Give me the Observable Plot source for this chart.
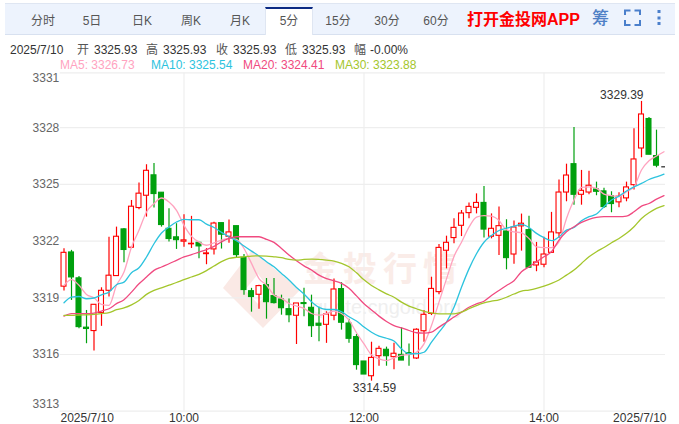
<!DOCTYPE html>
<html><head><meta charset="utf-8">
<script src="https://cdn.jsdelivr.net/npm/d3@7"></script>
<script src="https://cdn.jsdelivr.net/npm/@observablehq/plot@0.6"></script>
<style>
html,body{margin:0;padding:0;background:#fff;width:679px;height:424px;overflow:hidden;font-family:"Liberation Sans","Noto Sans CJK SC",sans-serif;font-size:12px;}
#page{position:relative;width:679px;height:424px;}
.abs{position:absolute;white-space:nowrap;line-height:14px;}
#bar{position:absolute;left:5px;top:3px;width:670px;height:30px;background:#edf3fd;border-top:1px solid #dfe6f2;border-bottom:1px solid #d8e1f0;}
#active{position:absolute;left:265px;top:7px;width:48px;height:28px;background:#fff;border-top:2px solid #0b2a83;border-left:1px solid #dfe6f2;border-right:1px solid #dfe6f2;box-sizing:border-box;}
.tab{transform:translateX(-50%);color:#555;top:14px;}
.lab{color:#555;top:43px}.num{color:#333;top:43px}
.ma{top:58px}
#chart{position:absolute;left:0;top:0;z-index:2;}
#chart svg{background:transparent!important;display:block;}
.wm{position:absolute;z-index:1;white-space:nowrap;}
</style></head><body><div id="page">
<div id="bar"></div><div id="active"></div>
<div id="head"></div>
<svg class="wm" width="679" height="424" style="left:0;top:0"><path d="M223 288L252 250L300 290L263 328Z" fill="#fae9e5"/><path d="M245 290L258 274L270 290L258 304Z" fill="#fff"/></svg>
<div class="wm" style="left:303px;top:245px;font:bold 34px 'Noto Sans CJK SC';letter-spacing:6px;color:#faecе8;color:#faece8;line-height:44px;">金投行情</div>
<div class="wm" style="left:312px;top:294px;font:20px 'Liberation Sans';color:#efefef;line-height:26px;">quote.cngold.org</div>
<div id="chart"></div>
</div>
<script>
const tabs=["分时","5日","日K","周K","月K","5分","15分","30分","60分"];
const tabX=[43,92,142,191,240,289,338,387,436];
const infoDate="2025/7/10";
const infoLabels=["开","高","收","低","幅"];
const infoValues=["3325.93","3325.93","3325.93","3325.93","-0.00%"];
const maNames=["MA5","MA10","MA20","MA30"];
const maLatest=["3326.73","3325.54","3324.41","3323.88"];
const maColors=["#ffa3bf","#2cc3de","#f04a80","#a4c62c"];
const yTicks=[3331,3328,3325,3322,3319,3316,3313];
const gridValues=[3328,3325,3322,3319,3316];
const timeLabels=["2025/7/10","10:00","12:00","14:00","2025/7/10"];
const timeIndex=[0,16,40,64,80];

const opens=[3319.59,3321.40,3320.03,3317.42,3317.24,3318.19,3319.37,3320.15,3322.62,3321.65,3323.75,3324.40,3325.48,3324.56,3322.65,3322.20,3321.97,3321.83,3321.91,3321.31,
3321.56,3322.95,3322.23,3322.79,3321.12,3319.35,3319.16,3319.67,3319.09,3318.91,3318.40,3318.05,3318.72,3318.47,3317.63,3317.57,3318.05,3319.46,3317.64,3316.92,
3315.63,3314.85,3315.91,3316.25,3315.86,3315.98,3316.07,3315.79,3317.23,3318.15,3319.30,3321.49,3322.16,3322.81,3323.48,3323.76,3324.02,3322.23,3322.28,3322.51,
3321.29,3322.78,3322.58,3320.71,3320.75,3321.38,3322.41,3324.57,3326.07,3324.45,3324.57,3324.73,3324.63,3324.38,3324.05,3324.26,3324.96,3326.90,3328.46,3326.50];
const closes=[3321.38,3320.08,3317.45,3317.35,3318.63,3319.37,3320.17,3322.23,3321.53,3323.82,3324.51,3325.72,3324.49,3322.85,3322.11,3322.05,3322.04,3321.86,3321.72,3321.35,
3322.93,3322.34,3322.46,3321.26,3319.41,3319.04,3319.62,3318.77,3318.72,3318.45,3318.08,3318.70,3318.67,3317.50,3317.52,3318.12,3319.44,3317.68,3316.83,3315.44,
3314.94,3315.82,3316.30,3315.91,3316.04,3315.68,3316.00,3317.31,3318.10,3319.47,3321.64,3321.91,3322.70,3323.46,3323.81,3324.02,3322.61,3322.65,3322.79,3321.10,
3322.72,3322.92,3320.59,3320.87,3321.29,3322.46,3324.57,3325.47,3324.45,3324.66,3324.93,3324.61,3323.80,3323.96,3324.35,3324.84,3326.32,3328.70,3326.57,3325.99];
const highs=[3321.60,3321.51,3320.13,3318.33,3318.63,3319.53,3322.21,3322.74,3322.67,3324.15,3325.07,3326.04,3326.11,3324.56,3323.71,3322.92,3323.40,3323.31,3321.91,3321.60,
3323.00,3322.95,3323.11,3322.79,3321.29,3319.50,3319.67,3320.02,3320.02,3319.14,3318.93,3318.70,3319.50,3319.14,3318.50,3318.26,3319.99,3319.80,3317.87,3317.06,
3315.63,3316.65,3316.44,3316.39,3316.60,3317.41,3316.56,3317.36,3318.33,3320.09,3321.82,3322.26,3323.18,3323.62,3324.02,3324.50,3324.89,3323.44,3323.80,3323.13,
3323.06,3323.43,3323.32,3321.93,3322.20,3323.52,3325.23,3326.07,3328.01,3325.74,3325.70,3325.12,3324.79,3324.61,3324.56,3325.12,3327.94,3329.39,3328.54,3327.87];
const lows=[3319.36,3318.86,3317.36,3316.57,3316.18,3317.49,3319.04,3320.15,3320.86,3321.60,3323.66,3323.27,3323.75,3322.74,3321.95,3321.56,3321.67,3321.61,3321.07,3320.75,
3321.26,3321.58,3321.88,3321.08,3319.14,3318.24,3318.40,3317.87,3318.67,3318.08,3317.68,3316.53,3318.00,3316.90,3316.67,3316.59,3317.78,3317.29,3316.59,3315.17,
3314.94,3314.59,3315.38,3315.38,3315.19,3315.68,3315.38,3315.74,3316.65,3318.06,3319.16,3320.53,3321.86,3322.24,3323.18,3323.44,3322.16,3322.12,3321.24,3320.48,
3320.78,3321.47,3320.59,3320.38,3320.59,3321.35,3322.14,3324.08,3323.90,3323.90,3324.45,3324.40,3323.73,3323.50,3323.76,3324.08,3324.70,3326.41,3326.57,3325.88];
const lastPrice=3325.93;

const ma5=[3319.66,3319.96,3319.66,3319.18,3319.00,3318.65,3318.60,3319.66,3320.36,3321.68,3322.57,3323.54,3323.98,3324.28,3324.07,3323.63,3322.83,3322.25,3321.95,3321.78,
3321.91,3322.05,3322.14,3322.09,3321.61,3320.82,3320.02,3319.67,3319.14,3318.97,3318.70,3318.56,3318.44,3318.17,3318.08,3318.17,3318.30,3318.17,3317.82,3317.15,
3316.56,3315.98,3315.77,3315.68,3315.82,3315.95,3316.00,3316.12,3316.56,3317.53,3318.77,3320.00,3321.19,3321.94,3322.74,3323.27,3323.35,3323.32,3323.09,3322.60,
3322.49,3322.44,3322.14,3321.70,3321.66,3321.66,3321.96,3323.20,3324.17,3324.84,3324.87,3324.79,3324.49,3324.40,3324.35,3324.61,3324.87,3325.76,3326.25,3326.50,3326.73];
const ma10=[3318.74,3319.04,3319.07,3318.95,3318.99,3319.16,3319.30,3319.69,3319.83,3320.33,3320.59,3321.16,3321.86,3322.43,3322.74,3323.01,3323.15,3323.13,3323.13,3322.90,
3322.72,3322.46,3322.23,3322.02,3321.74,3321.47,3321.21,3320.91,3320.64,3320.29,3319.94,3319.55,3319.20,3318.79,3318.49,3318.38,3318.38,3318.26,3318.00,3317.77,
3317.45,3317.18,3316.97,3316.86,3316.71,3316.30,3316.04,3316.04,3316.12,3316.65,3317.18,3317.71,3318.50,3319.56,3320.53,3321.33,3321.94,3322.30,3322.56,3322.68,
3322.79,3322.88,3322.72,3322.41,3322.18,3322.02,3322.23,3322.58,3322.72,3323.08,3323.29,3323.43,3323.82,3324.17,3324.38,3324.65,3324.87,3325.05,3325.26,3325.40,3325.54];
const ma20=[3318.03,3318.16,3318.16,3318.16,3318.19,3318.30,3318.42,3318.69,3318.90,3319.30,3319.74,3320.10,3320.45,3320.63,3320.80,3320.98,3321.16,3321.28,3321.42,3321.55,
3321.72,3321.96,3322.14,3322.23,3322.23,3322.23,3322.23,3322.09,3321.93,3321.61,3321.26,3320.96,3320.69,3320.47,3320.20,3320.02,3319.90,3319.76,3319.50,3319.10,
3318.68,3318.36,3318.03,3317.75,3317.53,3317.41,3317.27,3317.15,3317.13,3317.18,3317.45,3317.71,3317.98,3318.24,3318.50,3318.68,3318.82,3319.12,3319.39,3319.65,
3319.90,3320.38,3320.64,3320.91,3321.17,3321.44,3322.05,3322.49,3322.76,3322.99,3323.15,3323.25,3323.29,3323.29,3323.29,3323.32,3323.55,3323.85,3323.99,3324.22,3324.41];
const ma30=[3318.07,3318.07,3318.09,3318.10,3318.12,3318.16,3318.21,3318.37,3318.47,3318.63,3318.86,3319.18,3319.39,3319.53,3319.67,3319.81,3319.96,3320.10,3320.24,3320.44,
3320.68,3320.91,3321.08,3321.14,3321.17,3321.21,3321.22,3321.21,3321.17,3321.12,3321.03,3320.99,3321.03,3321.05,3321.03,3320.99,3320.94,3320.82,3320.64,3320.32,
3319.95,3319.65,3319.42,3319.21,3319.03,3318.77,3318.56,3318.42,3318.28,3318.20,3318.15,3318.15,3318.15,3318.24,3318.42,3318.59,3318.73,3318.82,3318.89,3319.03,
3319.20,3319.35,3319.41,3319.50,3319.62,3319.76,3319.94,3320.20,3320.47,3320.82,3321.17,3321.44,3321.66,3321.91,3322.14,3322.41,3322.76,3323.20,3323.50,3323.73,3323.88];

// ---------- header (plain text around the chart) ----------
const head=document.getElementById("head");
function add(cls,left,txt,style){const d=document.createElement("div");d.className="abs "+cls;d.style.left=left+"px";d.textContent=txt;if(style)d.style.cssText+=style;head.appendChild(d);return d;}
tabs.forEach((t,i)=>add("tab",tabX[i],t));
add("",467,"打开金投网APP","top:11px;color:#f00;font-weight:bold;font-size:16px;line-height:18px;");
add("",592,"筹","top:9px;color:#4f80c6;font-size:17px;font-weight:500;line-height:20px;");
add("num",10,infoDate);
const labX=[77,146,216,285,354], numX=[94,163,233,302,370];
infoLabels.forEach((l,i)=>{add("lab",labX[i],l);add("num",numX[i],infoValues[i]);});
const maX=[60,151,243,335];
maNames.forEach((n,i)=>add("ma",maX[i],n+": "+maLatest[i],"color:"+maColors[i]+";"));
// icon: fullscreen corners + dots
const ic=document.createElementNS("http://www.w3.org/2000/svg","svg");
ic.setAttribute("width",679);ic.setAttribute("height",40);ic.style.cssText="position:absolute;left:0;top:0;";
ic.innerHTML='<path d="M625 15V10.5H630.5M634.5 10.5H640V15M640 20V25H634.5M630.5 25H625V20" fill="none" stroke="#4a7fcb" stroke-width="2"/><g fill="#4a7fcb"><rect x="657.5" y="10" width="3" height="3"/><rect x="657.5" y="16.5" width="3" height="3"/><rect x="657.5" y="22" width="3" height="3"/></g>';
head.appendChild(ic);

// ---------- chart ----------
const idx=d3.range(opens.length);
const maSeries=[ma5,ma10,ma20,ma30];
const gridColor="#eeeeee";
const chart=Plot.plot({
  width:679,height:424,
  marginLeft:0,marginRight:0,marginTop:0,marginBottom:0,
  style:{background:"transparent",fontFamily:"'Liberation Sans',sans-serif",fontSize:"12px"},
  x:{type:"linear",domain:[0,80],range:[63.5,663.5],axis:null},
  y:{type:"linear",domain:[3313,3331],range:[410.7,70.5],axis:null},
  marks:[
    Plot.ruleY(gridValues,{x1:-0.5,x2:80.2,stroke:gridColor,strokeWidth:1.2}),
    Plot.ruleY([3330.9],{x1:-0.5,x2:80.2,stroke:gridColor,strokeWidth:1.2}),
    Plot.ruleY([3313],{x1:-0.5,x2:80.2,stroke:gridColor,strokeWidth:1.2}),
    Plot.ruleX([16,40,64],{y1:3313,y2:3330.9,stroke:gridColor,strokeWidth:1.2}),
    Plot.ruleX(idx,{x:d=>d,y1:d=>lows[d],y2:d=>highs[d],stroke:d=>closes[d]>=opens[d]?"#ff0000":"#00a00e",strokeWidth:1.2}),
    Plot.rect(idx,{x1:d=>d-0.33,x2:d=>d+0.33,y1:d=>opens[d],y2:d=>closes[d],
      fill:d=>closes[d]>=opens[d]?"#ffffff":"#00a00e",
      stroke:d=>closes[d]>=opens[d]?"#ff0000":"#00a00e",strokeWidth:1.1}),
    Plot.ruleY([lastPrice],{x1:79.7,x2:80.2,stroke:"#222",strokeWidth:1.2}),
    ...maSeries.map((s,k)=>Plot.line(s,{x:(d,i)=>i,y:d=>d,stroke:maColors[k],strokeWidth:1.3,curve:"monotone-x"})),
    Plot.text(yTicks.filter(t=>t!==3331&&t!==3313),{x:-0.5,y:d=>d,text:d=>String(d),textAnchor:"end",fill:"#666",dx:-1}),
    Plot.text([3331],{x:-0.5,y:d=>d,text:d=>String(d),textAnchor:"end",fill:"#666",dx:-1,dy:7}),
    Plot.text([3313],{x:-0.5,y:d=>d,text:d=>String(d),textAnchor:"end",fill:"#666",dx:-1,dy:-7}),
    Plot.text(timeLabels.slice(1,4),{x:(d,i)=>timeIndex[i+1],y:3313,text:d=>d,fill:"#333",dy:7}),
    Plot.text(timeLabels.slice(0,1),{x:0,y:3313,text:d=>d,fill:"#333",dy:7,textAnchor:"start",dx:-3.5}),
    Plot.text(timeLabels.slice(4),{x:80,y:3313,text:d=>d,fill:"#333",dy:7,textAnchor:"end",dx:2.5}),
    Plot.text([3329.39],{x:77,y:d=>d,text:d=>d.toFixed(2),textAnchor:"end",dx:2,dy:-6,fill:"#333"}),
    Plot.text([3314.59],{x:41,y:d=>d,text:d=>d.toFixed(2),textAnchor:"middle",dx:3,dy:7,fill:"#333"})
  ]
});
document.getElementById("chart").appendChild(chart);
</script></body></html>
